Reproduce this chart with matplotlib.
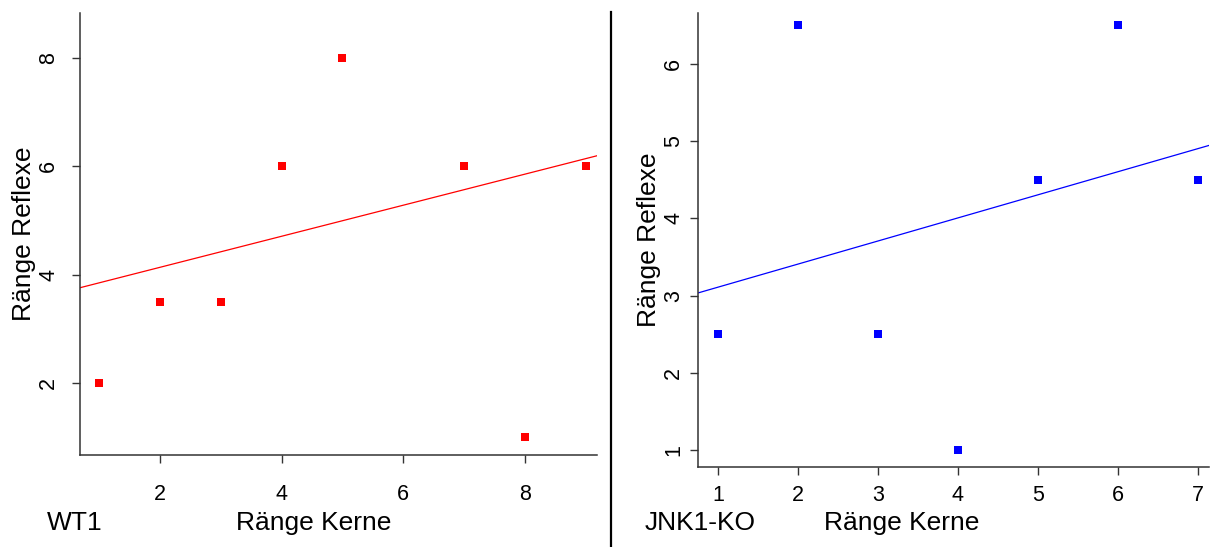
import matplotlib
matplotlib.use("Agg")
import matplotlib.pyplot as plt
from matplotlib.lines import Line2D

plt.rcParams['font.family'] = ['Liberation Sans', 'DejaVu Sans']

# WT1 panel
wt_x = [1, 2, 3, 4, 5, 7, 8, 9]
wt_y = [2, 3.5, 3.5, 6, 8, 6, 1, 6]
wt_line = (3.56, 0.287)          # intercept, slope
wt_xticks = [2, 4, 6, 8]
wt_yticks = [2, 4, 6, 8]

# JNK1-KO panel
ko_x = [1, 2, 3, 4, 5, 6, 7]
ko_y = [2.5, 6.5, 2.5, 1, 4.5, 6.5, 4.5]
ko_line = (2.81, 0.299)
ko_xticks = [1, 2, 3, 4, 5, 6, 7]
ko_yticks = [1, 2, 3, 4, 5, 6]

W, H = 1222, 547
fig = plt.figure(figsize=(W / 100, H / 100), dpi=100)


def px_axes(x0, y0, x1, y1):
    return fig.add_axes([x0 / W, 1 - y1 / H, (x1 - x0) / W, (y1 - y0) / H])


def style(ax, xpad, ypad):
    for s in ('top', 'right'):
        ax.spines[s].set_visible(False)
    for s in ('left', 'bottom'):
        ax.spines[s].set_color('#333333')
        ax.spines[s].set_linewidth(1.1)
    ax.tick_params(axis='both', direction='out', length=6, width=1.0,
                   color='#333333', labelsize=15.5)
    ax.tick_params(axis='x', pad=xpad)
    ax.tick_params(axis='y', pad=ypad)
    for lab in ax.get_yticklabels():
        lab.set_rotation(90)
        lab.set_va('center')


# Left panel
ax1 = px_axes(80, 13, 597, 455)
ax1.set_xlim(0.69, 9.18)
ax1.set_ylim(0.67, 8.83)
ax1.plot(wt_x, wt_y, 's', color='#ff0000', markersize=5.2, markeredgewidth=0)
xs = list(ax1.get_xlim())
ax1.plot(xs, [wt_line[0] + wt_line[1] * v for v in xs], color='#ff0000', lw=0.9)
ax1.set_xticks(wt_xticks)
ax1.set_yticks(wt_yticks)
style(ax1, 15, 9)
ax1.set_ylabel('Ränge Reflexe', fontsize=19)
ax1.yaxis.set_label_coords(-44 / 517, 0.5)

# Right panel
ax2 = px_axes(698, 13, 1209, 467)
ax2.set_xlim(0.75, 7.14)
ax2.set_ylim(0.78, 6.66)
ax2.plot(ko_x, ko_y, 's', color='#0000ff', markersize=5.2, markeredgewidth=0)
xs2 = list(ax2.get_xlim())
ax2.plot(xs2, [ko_line[0] + ko_line[1] * v for v in xs2], color='#0000ff', lw=0.9)
ax2.set_xticks(ko_xticks)
ax2.set_yticks(ko_yticks)
for t in ax2.get_xticklabels():
    t.set_clip_on(False)
style(ax2, 7, 4)
ax2.set_ylabel('Ränge Reflexe', fontsize=19)
ax2.yaxis.set_label_coords(-37 / 511, 0.5)

# Bottom texts
fig.text(47 / W, 1 - 530 / H, 'WT1', fontsize=19, ha='left', va='baseline')
fig.text(314 / W, 1 - 530 / H, 'Ränge Kerne', fontsize=19, ha='center', va='baseline')
fig.text(645 / W, 1 - 530 / H, 'JNK1-KO', fontsize=19, ha='left', va='baseline')
fig.text(902 / W, 1 - 530 / H, 'Ränge Kerne', fontsize=19, ha='center', va='baseline')

# Divider
fig.add_artist(Line2D([611 / W, 611 / W], [0, 1 - 12 / H], color='black', lw=1.6,
                      transform=fig.transFigure))

fig.savefig('out.png', dpi=100)
